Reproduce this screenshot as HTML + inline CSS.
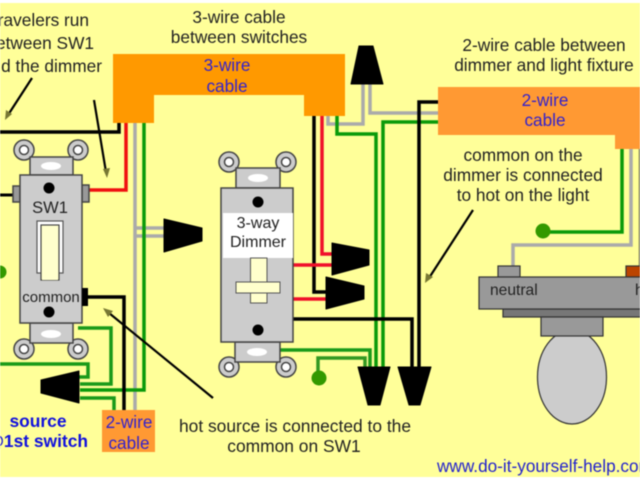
<!DOCTYPE html>
<html>
<head>
<meta charset="utf-8">
<style>
html,body{margin:0;padding:0;background:#fff;width:640px;height:480px;overflow:hidden}
svg{display:block;filter:blur(.45px)}
text{font-family:"Liberation Sans",sans-serif;fill:#222}
.m{text-anchor:middle}
.b{fill:#3322cc}
</style>
</head>
<body>
<svg width="640" height="480" viewBox="0 0 640 480" xmlns="http://www.w3.org/2000/svg">
<rect x="0" y="3" width="640" height="474" fill="#ffff99"/>

<!-- wires -->
<g fill="none" stroke-linejoin="miter">
  <path d="M135 123V410M135 228H165M135 236H165" stroke="#aaaaaa" stroke-width="3.5"/>
  <path d="M144 123V390H80" stroke="#0a9a0a" stroke-width="3.5"/>
  <path d="M119 123V132H0" stroke="#000" stroke-width="3.5"/>
  <path d="M126 123V190H88" stroke="#f01010" stroke-width="3.5"/>
  <path d="M0 195H14" stroke="#000" stroke-width="3"/>
  <path d="M88 297H124V410" stroke="#000" stroke-width="3.5"/>
  <path d="M78 328H111V384H80" stroke="#1a9a1a" stroke-width="3.5"/>
  <path d="M0 364H88V377H78" stroke="#1a9a1a" stroke-width="3.5"/>
  <path d="M80 398H114V410" stroke="#1a9a1a" stroke-width="3.5"/>

  <path d="M328 116V124H363V84" stroke="#aaaaaa" stroke-width="3.5"/>
  <path d="M370 84V113H440" stroke="#aaaaaa" stroke-width="3.5"/>
  <path d="M337 116V134H376V367" stroke="#0a9a0a" stroke-width="3.5"/>
  <path d="M383 367V122H440" stroke="#0a9a0a" stroke-width="3.5"/>
  <path d="M419 367V102H440" stroke="#000" stroke-width="3.5"/>
  <path d="M314 116V292H328" stroke="#000" stroke-width="3.5"/>
  <path d="M322 116V254H334" stroke="#f0102a" stroke-width="3.5"/>
  <path d="M293 265H334M293 299H328" stroke="#f0102a" stroke-width="3.5"/>
  <path d="M293 319H412V367" stroke="#000" stroke-width="3.5"/>
  <path d="M280 350H370V367" stroke="#1a9a1a" stroke-width="3.5"/>
  <path d="M318 378V358H365V367" stroke="#339922" stroke-width="3.5"/>

  <path d="M622 149V232H543" stroke="#0a9a0a" stroke-width="3.5"/>
  <path d="M631 149V245H513V267" stroke="#aaaaaa" stroke-width="3.5"/>
  <path d="M639.5 149V266" stroke="#777755" stroke-width="1.5"/>
</g>
<circle cx="0" cy="272" r="6.5" fill="#339900"/>
<circle cx="319" cy="378" r="7.5" fill="#339900"/>
<circle cx="543" cy="231" r="7.5" fill="#339900"/>

<!-- cables -->
<polygon points="113,54 345,54 345,116 304,116 304,95 154,95 154,123 113,123" fill="#ff9900"/>
<polygon points="438,87 640,87 640,149 615,149 615,135 438,135" fill="#ff9933"/>
<rect x="102" y="410" width="53" height="42" fill="#ff9933"/>

<!-- wire nuts -->
<g fill="#000" stroke="#000" stroke-width="1" stroke-linejoin="round">
  <polygon points="164,219 202,228 202,241 164,252"/>
  <polygon points="41,380 79,371 79,403 41,393"/>
  <polygon points="359,46 373,46 383,84 351,84"/>
  <polygon points="332,243 369,250 369,265 332,275"/>
  <polygon points="326,277 364,286 364,299 326,309"/>
  <polygon points="358,367 390,367 380,405 368,405"/>
  <polygon points="398,367 431,367 420,405 409,405"/>
</g>

<!-- switch 1 -->
<g stroke="#444" stroke-width="1.5">
  <circle cx="24" cy="150" r="10" fill="#cccccc"/><circle cx="78" cy="150" r="10" fill="#cccccc"/>
  <circle cx="24" cy="349" r="10" fill="#cccccc"/><circle cx="78" cy="349" r="10" fill="#cccccc"/>
  <circle cx="24" cy="150" r="4.5" fill="#fff"/><circle cx="78" cy="150" r="4.5" fill="#fff"/>
  <circle cx="24" cy="349" r="4.5" fill="#fff"/><circle cx="78" cy="349" r="4.5" fill="#fff"/>
  <rect x="13" y="186" width="7" height="16" fill="#999"/>
  <rect x="82" y="185" width="7" height="17" fill="#999"/>
  <rect x="30" y="157" width="43" height="18" fill="#cccccc"/>
  <rect x="30" y="323" width="43" height="20" fill="#cccccc"/>
  <rect x="20" y="175" width="62" height="148" fill="#cccccc"/>
</g>
<ellipse cx="51" cy="166" rx="10" ry="4" fill="#fff"/>
<ellipse cx="51" cy="334" rx="10" ry="4" fill="#fff"/>
<circle cx="49" cy="188" r="5.5" fill="#000"/>
<circle cx="49" cy="312" r="5.5" fill="#000"/>
<rect x="37" y="221" width="26" height="52" fill="#fff" stroke="#555" stroke-width="1.2"/>
<rect x="41" y="225" width="18" height="55" fill="#ffffcc" stroke="#444" stroke-width="1.2"/>
<rect x="42" y="240" width="16" height="40" fill="#ffffcc"/>
<rect x="82" y="288" width="6" height="18" fill="#000"/>
<text x="50" y="213" class="m" font-size="16.5">SW1</text>
<text x="51" y="302" class="m" font-size="15">common</text>

<!-- dimmer -->
<g stroke="#444" stroke-width="1.5">
  <circle cx="229" cy="162" r="10" fill="#cccccc"/><circle cx="286" cy="162" r="10" fill="#cccccc"/>
  <circle cx="229" cy="367" r="10" fill="#cccccc"/><circle cx="286" cy="367" r="10" fill="#cccccc"/>
  <circle cx="229" cy="162" r="4.5" fill="#fff"/><circle cx="286" cy="162" r="4.5" fill="#fff"/>
  <circle cx="229" cy="367" r="4.5" fill="#fff"/><circle cx="286" cy="367" r="4.5" fill="#fff"/>
  <rect x="236" y="168" width="44" height="20" fill="#cccccc"/>
  <rect x="235" y="342" width="45" height="20" fill="#cccccc"/>
  <rect x="221" y="188" width="72" height="154" fill="#cccccc"/>
</g>
<rect x="223" y="213" width="70" height="45" fill="#fff"/>
<ellipse cx="258" cy="178" rx="10" ry="4" fill="#fff"/>
<ellipse cx="257" cy="352" rx="10" ry="4" fill="#fff"/>
<circle cx="258" cy="202" r="5.5" fill="#000"/>
<circle cx="258" cy="330" r="5.5" fill="#000"/>
<rect x="250.5" y="258" width="16.5" height="45" fill="#ffffcc" stroke="#555" stroke-width="1"/>
<rect x="236" y="282" width="44" height="11" fill="#ffffcc" stroke="#555" stroke-width="1"/>
<text x="258" y="228" class="m" font-size="16">3-way</text>
<text x="258" y="247" class="m" font-size="16">Dimmer</text>

<!-- light fixture -->
<ellipse cx="572" cy="377" rx="34.5" ry="47" fill="#cccccc" stroke="#333" stroke-width="1.2"/>
<g stroke="#333" stroke-width="1.2">
  <rect x="498" y="266" width="22" height="11" fill="#999"/>
  <rect x="626" y="266" width="16" height="11" fill="#bb4400"/>
  <rect x="503" y="309" width="139" height="8" fill="#777"/>
  <rect x="479" y="277" width="163" height="32" fill="#999"/>
  <rect x="541" y="317" width="62" height="19" fill="#999"/>
</g>
<text x="490" y="295" font-size="15.6">neutral</text>
<text x="635" y="295" font-size="15.6">hot</text>

<!-- arrows -->
<g stroke="#000" stroke-width="2.2" fill="none">
  <line x1="32" y1="78" x2="8" y2="115"/>
  <line x1="94" y1="100" x2="106" y2="172"/>
  <line x1="213" y1="398" x2="109" y2="313"/>
  <line x1="473" y1="210" x2="429" y2="278"/>
</g>
<g fill="#777733">
  <polygon points="5,120 6,110 12,114"/>
  <polygon points="107,178 103,169 110,168"/>
  <polygon points="103,308 113,311 108,317"/>
  <polygon points="425,283 426,273 433,277"/>
</g>

<!-- labels -->
<text x="89" y="26" text-anchor="end" font-size="17.3">Travelers run</text>
<text x="94" y="49" text-anchor="end" font-size="17.3">between SW1</text>
<text x="102" y="72" text-anchor="end" font-size="17.3">and the dimmer</text>
<text x="239" y="23" class="m" font-size="17.3">3-wire cable</text>
<text x="239" y="43" class="m" font-size="17.3">between switches</text>
<text x="227" y="71" class="m b" font-size="17.2">3-wire</text>
<text x="227" y="92" class="m b" font-size="17.2">cable</text>
<text x="544" y="51" class="m" font-size="17.3">2-wire cable between</text>
<text x="544" y="71" class="m" font-size="17.3">dimmer and light fixture</text>
<text x="545" y="106" class="m b" font-size="17.2">2-wire</text>
<text x="545" y="126" class="m b" font-size="17.2">cable</text>
<text x="523" y="161" class="m" font-size="17.3">common on the</text>
<text x="523" y="181" class="m" font-size="17.3">dimmer is connected</text>
<text x="523" y="201" class="m" font-size="17.3">to hot on the light</text>
<text x="129" y="428" class="m b" font-size="17.2">2-wire</text>
<text x="129" y="449" class="m b" font-size="17.2">cable</text>
<text x="38" y="427" class="m" font-size="17.4" font-weight="bold" style="fill:#1111dd">source</text>
<text x="88" y="447" text-anchor="end" font-size="17.4" font-weight="bold" style="fill:#1111dd">@1st switch</text>
<text x="295" y="432" class="m" font-size="17.4">hot source is connected to the</text>
<text x="294" y="452" class="m" font-size="17.4">common on SW1</text>
<text x="437" y="472" font-size="17.2" style="fill:#2222cc">www.do-it-yourself-help.com</text>
</svg>
</body>
</html>
